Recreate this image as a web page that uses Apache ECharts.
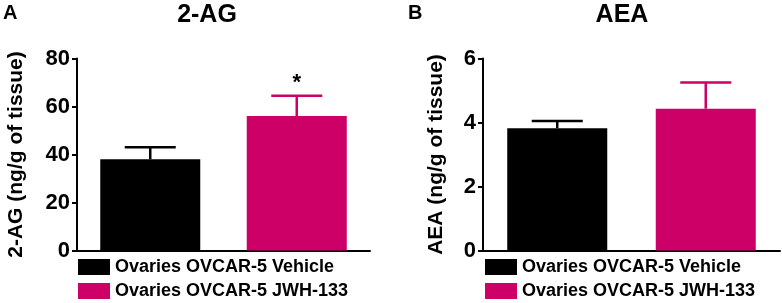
<!DOCTYPE html>
<html>
<head>
<meta charset="utf-8">
<script src="https://cdn.jsdelivr.net/npm/echarts@6/dist/echarts.min.js"></script>
<style>
  html, body { margin: 0; padding: 0; background: #fff; }
  #main { width: 782px; height: 303px; }
</style>
</head>
<body>
<div id="main"></div>
<script>
// groups
var groups = ['Ovaries OVCAR-5 Vehicle', 'Ovaries OVCAR-5 JWH-133'];
var colors = ['#000000', '#cc0066'];

// 2-AG panel (mean, upper end of error bar)
var agMean = [38, 56];
var agUpper = [43, 64.5];
var agSig = ['', '*'];
var agTicks = [0, 20, 40, 60, 80];

// AEA panel
var aeaMean = [3.82, 4.43];
var aeaUpper = [4.05, 5.25];
var aeaSig = ['', ''];
var aeaTicks = [0, 2, 4, 6];

var font = 'Liberation Sans, Arial, sans-serif';

var myChart = echarts.init(document.getElementById('main'));

function barSeries(idx, name, mean, panel) {
    var d = mean.map(function(v, i) { return i === idx ? v : '-'; });
    return {
        type: 'bar',
        name: name,
        xAxisIndex: panel,
        yAxisIndex: panel,
        data: d,
        barWidth: 100,
        barGap: '-100%',
        itemStyle: { color: colors[idx] },
        silent: true
    };
}

function errSeries(panel, mean, upper, sig) {
    var d = mean.map(function(v, i) { return [i, v, upper[i]]; });
    return {
        type: 'custom',
        xAxisIndex: panel,
        yAxisIndex: panel,
        data: d,
        silent: true,
        z: 5,
        renderItem: function(params, api) {
            var i = api.value(0);
            var p0 = api.coord([i, api.value(1)]);
            var p1 = api.coord([i, api.value(2)]);
            var c = colors[i];
            var st = { stroke: c, lineWidth: 2.5 };
            var kids = [
                { type: 'line', shape: { x1: p0[0], y1: p0[1], x2: p1[0], y2: p1[1] }, style: st },
                { type: 'line', shape: { x1: p1[0] - 25.5, y1: p1[1], x2: p1[0] + 25.5, y2: p1[1] }, style: st }
            ];
            if (sig[i]) {
                kids.push({
                    type: 'text',
                    style: {
                        text: sig[i], x: p1[0], y: p1[1] - 2,
                        align: 'center', verticalAlign: 'bottom',
                        font: 'bold 22px ' + font, fill: '#000'
                    }
                });
            }
            return { type: 'group', children: kids };
        }
    };
}

function yAxisOf(panel, name, ticks, gap) {
    return {
        type: 'value',
        gridIndex: panel,
        min: ticks[0],
        max: ticks[ticks.length - 1],
        interval: ticks[1] - ticks[0],
        name: name,
        nameLocation: 'middle',
        nameGap: gap,
        nameTextStyle: { fontFamily: font, fontWeight: 'bold', fontSize: 21, color: '#000' },
        axisLine: { show: true, lineStyle: { color: '#000', width: 2 } },
        axisTick: { show: true, length: 5, lineStyle: { color: '#000', width: 2 } },
        axisLabel: { margin: 7, fontFamily: font, fontWeight: 'bold', fontSize: 22, color: '#000' },
        splitLine: { show: false }
    };
}

function xAxisOf(panel) {
    return {
        type: 'category',
        gridIndex: panel,
        data: groups,
        axisLine: { show: true, lineStyle: { color: '#000', width: 2 } },
        axisTick: { show: false },
        axisLabel: { show: false }
    };
}

function legendOf(left) {
    return {
        data: groups,
        orient: 'vertical',
        left: left,
        top: 258,
        padding: 0,
        itemWidth: 32,
        itemHeight: 16,
        itemGap: 6,
        selectedMode: false,
        icon: 'rect',
        textStyle: { fontFamily: font, fontWeight: 'bold', fontSize: 18, color: '#000' }
    };
}

var option = {
    animation: false,
    grid: [
        { left: 77, right: 412, top: 58.5, bottom: 52.5 },
        { left: 483, right: 2, top: 58.5, bottom: 52.5 }
    ],
    xAxis: [xAxisOf(0), xAxisOf(1)],
    yAxis: [
        yAxisOf(0, '2-AG (ng/g of tissue)', agTicks, 50),
        yAxisOf(1, 'AEA (ng/g of tissue)', aeaTicks, 36)
    ],
    legend: [legendOf(78), legendOf(485)],
    graphic: [
        { type: 'text', x: 3, y: 3, style: { text: 'A', font: 'bold 20px ' + font, fill: '#000' } },
        { type: 'text', x: 408, y: 3, style: { text: 'B', font: 'bold 20px ' + font, fill: '#000' } },
        { type: 'text', x: 207, y: 3, style: { text: '2-AG', font: 'bold 25px ' + font, fill: '#000', align: 'center' } },
        { type: 'text', x: 622, y: 3, style: { text: 'AEA', font: 'bold 25px ' + font, fill: '#000', align: 'center' } }
    ],
    series: [
        barSeries(0, groups[0], agMean, 0),
        barSeries(1, groups[1], agMean, 0),
        errSeries(0, agMean, agUpper, agSig),
        barSeries(0, groups[0], aeaMean, 1),
        barSeries(1, groups[1], aeaMean, 1),
        errSeries(1, aeaMean, aeaUpper, aeaSig)
    ]
};

myChart.setOption(option);
</script>
</body>
</html>
